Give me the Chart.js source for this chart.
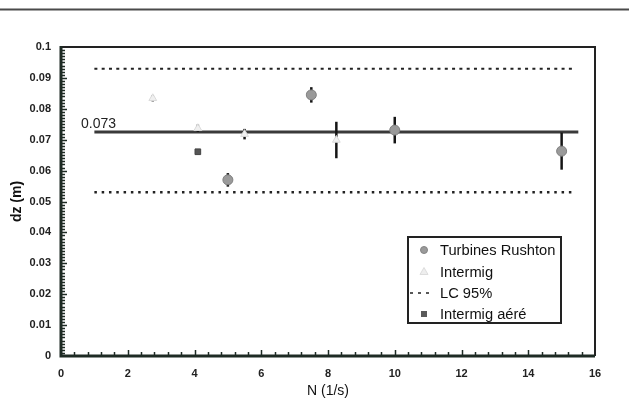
<!DOCTYPE html>
<html><head><meta charset="utf-8">
<style>html,body{margin:0;padding:0;background:#fff}#wrap{width:629px;height:414px;position:relative}</style>
<script src="https://cdn.jsdelivr.net/npm/chart.js@4"></script>
</head><body><div id="wrap"><canvas id="c" width="629" height="414"></canvas></div>
<script>
const rushtonN = [5, 7.5, 10, 15];
const rushtonDz = [0.057, 0.0845, 0.0731, 0.0663];
const rushtonErr = [0.0022, 0.0025, 0.0043, 0.006];
const intermigN = [2.75, 4.1, 5.5, 8.25];
const intermigDz = [0.0834, 0.0737, 0.0718, 0.0699];
const intermigErr = [0.001, 0.0012, 0.0017, 0.0059];
const aereN = [4.1];
const aereDz = [0.0661];
const meanN = [1, 15.5];
const meanDz = 0.0725;
const meanLabel = '0.073';
const lcN = [1, 15.4];
const lcUpper = 0.093;
const lcLower = 0.053;
const legendLabels = ['Turbines Rushton', 'Intermig', 'LC 95%', 'Intermig aéré'];
const xTickLabels = ['0','2','4','6','8','10','12','14','16'];
const yTickLabels = ['0','0.01','0.02','0.03','0.04','0.05','0.06','0.07','0.08','0.09','0.1'];
const xTitle = 'N (1/s)';
const yTitle = 'dz (m)';

const pts = (xs, ys) => xs.map((x, i) => ({x, y: Array.isArray(ys) ? ys[i] : ys}));
const FONT = '"Liberation Sans", Arial, sans-serif';

const framePlugin = {
  id: 'frame',
  beforeDatasetDraw(chart, args) {
    if (args.index !== 2) return;
    const {ctx, scales: {x, y}} = chart;
    ctx.save();
    ctx.strokeStyle = '#151515';
    ctx.lineWidth = 2.5;
    const bars = [[rushtonN, rushtonDz, rushtonErr], [intermigN, intermigDz, intermigErr]];
    bars.forEach(([xs, ys, es]) => {
      xs.forEach((n, i) => {
        const px = x.getPixelForValue(n);
        ctx.beginPath();
        ctx.moveTo(px, y.getPixelForValue(ys[i] + es[i]));
        ctx.lineTo(px, y.getPixelForValue(ys[i] - es[i]));
        ctx.stroke();
      });
    });
    ctx.restore();
  },
  afterDraw(chart) {
    const {ctx, chartArea: a, scales: {x, y}} = chart;
    ctx.save();
    // top rule
    ctx.strokeStyle = '#4a4a4a';
    ctx.lineWidth = 2;
    ctx.beginPath(); ctx.moveTo(0, 9.5); ctx.lineTo(629, 9.5); ctx.stroke();
    // frame
    ctx.strokeStyle = '#222';
    ctx.lineWidth = 2;
    ctx.beginPath();
    ctx.moveTo(a.left, a.top); ctx.lineTo(a.right, a.top); ctx.lineTo(a.right, a.bottom);
    ctx.stroke();
    ctx.strokeStyle = '#1e2b24';
    ctx.lineWidth = 3;
    ctx.beginPath(); ctx.moveTo(a.left, a.top - 1); ctx.lineTo(a.left, a.bottom); ctx.lineTo(a.right, a.bottom); ctx.stroke();
    // ticks
    ctx.lineWidth = 1.5;
    for (let k = 1; k < 100; k++) {
      const py = Math.round(y.getPixelForValue(k / 1000)) + 0.5;
      const len = k % 10 === 0 ? 6 : 4;
      ctx.beginPath(); ctx.moveTo(a.left, py); ctx.lineTo(a.left + len, py); ctx.stroke();
    }
    for (let k = 1; k < 40; k++) {
      const px = Math.round(x.getPixelForValue(k * 0.4)) + 0.5;
      const len = k % 5 === 0 ? 6 : 4;
      ctx.beginPath(); ctx.moveTo(px, a.bottom); ctx.lineTo(px, a.bottom - len); ctx.stroke();
    }
    // mean label
    ctx.fillStyle = '#222';
    ctx.font = '14px ' + FONT;
    ctx.textBaseline = 'alphabetic';
    ctx.fillText(meanLabel, 81, y.getPixelForValue(meanDz) - 4);
    // legend
    const lx = 408, ly = 237, lw = 153, lh = 86;
    ctx.fillStyle = '#fff';
    ctx.fillRect(lx, ly, lw, lh);
    ctx.strokeStyle = '#222';
    ctx.lineWidth = 2;
    ctx.strokeRect(lx, ly, lw, lh);
    const rows = [250, 271.5, 293, 314];
    ctx.font = '14.7px ' + FONT;
    ctx.textBaseline = 'middle';
    ctx.fillStyle = '#111';
    legendLabels.forEach((t, i) => ctx.fillText(t, 440, rows[i] + 1));
    // markers
    ctx.fillStyle = '#9a9a9a'; ctx.strokeStyle = '#858585'; ctx.lineWidth = 1;
    ctx.beginPath(); ctx.arc(424, rows[0], 3.5, 0, Math.PI * 2); ctx.fill(); ctx.stroke();
    ctx.fillStyle = '#eeeeee'; ctx.strokeStyle = '#dddddd';
    ctx.beginPath(); ctx.moveTo(424, rows[1] - 4); ctx.lineTo(428, rows[1] + 3); ctx.lineTo(420, rows[1] + 3); ctx.closePath(); ctx.fill(); ctx.stroke();
    ctx.strokeStyle = '#222'; ctx.lineWidth = 1.5; ctx.setLineDash([3, 5]);
    ctx.beginPath(); ctx.moveTo(410, rows[2]); ctx.lineTo(434, rows[2]); ctx.stroke();
    ctx.setLineDash([]);
    ctx.fillStyle = '#5a5a5a';
    ctx.fillRect(421, rows[3] - 3, 6, 6);
    ctx.restore();
  }
};

new Chart(document.getElementById('c'), {
  type: 'scatter',
  data: {
    datasets: [
      {label: legendLabels[0], data: pts(rushtonN, rushtonDz), pointStyle: 'circle', pointRadius: 5,
       backgroundColor: '#9a9a9a', borderColor: '#808080', borderWidth: 1},
      {label: legendLabels[1], data: pts(intermigN, intermigDz), pointStyle: 'triangle', pointRadius: 4.5,
       backgroundColor: '#f0f0f0', borderColor: '#dadada', borderWidth: 1},
      {label: legendLabels[3], data: pts(aereN, aereDz), pointStyle: 'rect', pointRadius: 4,
       backgroundColor: '#555', borderColor: '#444', borderWidth: 1},
      {label: 'mean', data: pts(meanN, meanDz), showLine: true, pointRadius: 0, borderColor: '#3a3a3a', borderWidth: 3},
      {label: legendLabels[2], data: pts(lcN, lcUpper), showLine: true, pointRadius: 0, borderColor: '#222', borderWidth: 2, borderDash: [3, 4.3]},
      {label: legendLabels[2] + ' ', data: pts(lcN, lcLower), showLine: true, pointRadius: 0, borderColor: '#222', borderWidth: 2.5, borderDash: [2.5, 4.8]}
    ]
  },
  options: {
    responsive: false,
    animation: false,
    devicePixelRatio: 1,
    layout: {padding: {top: 47, right: 34, left: 0, bottom: 0}},
    plugins: {legend: {display: false}, tooltip: {enabled: false}},
    scales: {
      x: {
        type: 'linear', min: 0, max: 16,
        grid: {display: false, drawTicks: false}, border: {display: false},
        ticks: {stepSize: 2, padding: 11, color: '#222', font: {family: FONT, size: 11, weight: 'bold'},
                callback: (v, i) => xTickLabels[i]},
        title: {display: true, text: xTitle, color: '#111', font: {family: FONT, size: 14}, padding: {top: 0, bottom: 14}},
        afterFit: s => { s.height = 58; }
      },
      y: {
        type: 'linear', min: 0, max: 0.1,
        grid: {display: false, drawTicks: false}, border: {display: false},
        ticks: {stepSize: 0.01, padding: 10, color: '#222', font: {family: FONT, size: 11, weight: 'bold'},
                callback: (v, i) => yTickLabels[i]},
        title: {display: true, text: yTitle, color: '#111', font: {family: FONT, size: 14, weight: 'bold'}, padding: {top: 9, bottom: 0}},
        afterFit: s => { s.width = 61; }
      }
    }
  },
  plugins: [framePlugin]
});
</script></body></html>
